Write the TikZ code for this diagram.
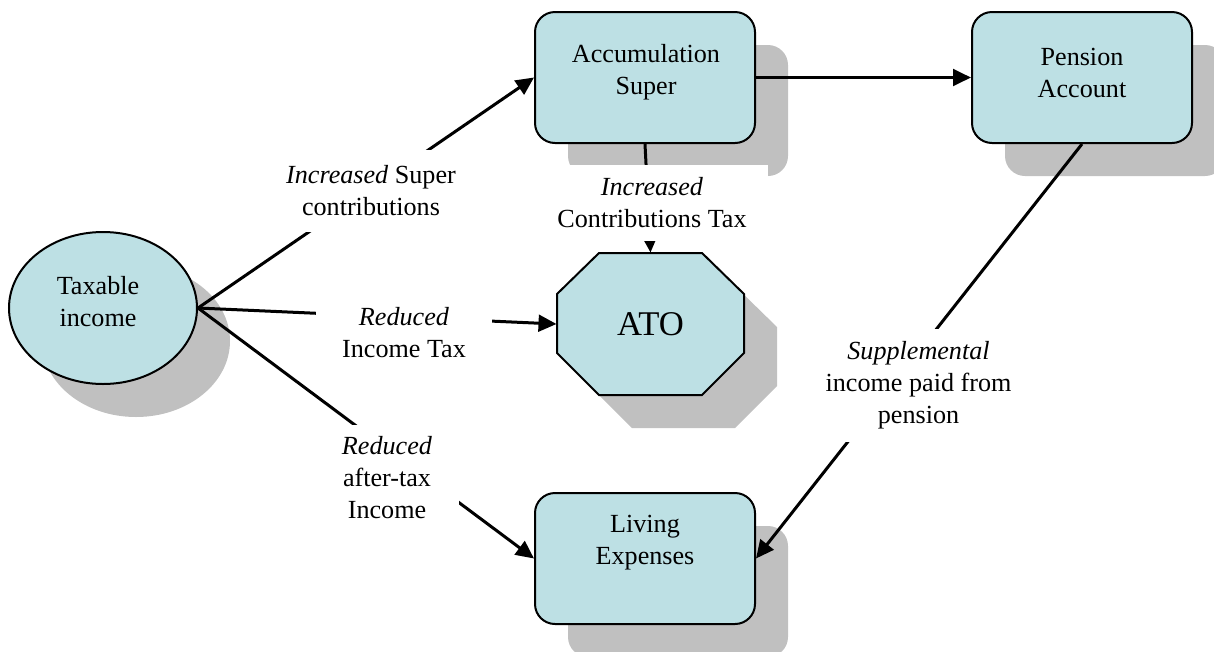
\documentclass[tikz,border=0pt]{standalone}
\usepackage{fontspec}
\setmainfont{Liberation Serif}
\usetikzlibrary{shapes.geometric,shadows,arrows.meta}
\definecolor{boxfill}{RGB}{189,224,228}
\definecolor{shadowgray}{RGB}{192,192,192}
\tikzset{every picture/.style={line width=0.75pt}}
\tikzset{
  grayshadow/.style={drop shadow={shadow xshift=24.75pt,shadow yshift=-24.75pt,fill=shadowgray,opacity=1}},
  flowbox/.style={draw,line width=1.5pt,fill=boxfill,rounded corners=15pt,minimum width=165pt,minimum height=98.25pt,inner sep=0pt,grayshadow},
  incomeoval/.style={ellipse,draw,line width=1.5pt,fill=boxfill,minimum width=141pt,minimum height=114pt,inner sep=0pt,grayshadow},
  octofill/.style={draw,line width=1.5pt,fill=boxfill,line join=miter},
  txt/.style={align=center,inner sep=0pt,font=\fontsize{19.6}{24}\selectfont},
  lbl/.style={fill=white,align=center,inner sep=0pt,font=\fontsize{19.6}{24}\selectfont},
  conn/.style={line width=2.25pt,-{Triangle[length=13.5pt,width=12.5pt]}}
}
\begin{document}
\begin{tikzpicture}[x=0.75pt,y=0.75pt,yscale=-1,xscale=1]
\useasboundingbox (0,0) rectangle (1214,651);

%Shape: Ellipse
\node [incomeoval] (taxable) at (103,308) {};
%Shape: Rounded Rectangles
\node [flowbox] (accum) at (645,77.5) {};
\node [flowbox] (pension) at (1082,77.5) {};
\node [flowbox] (living) at (645,558.5) {};
%Shape: Octagon (shadow, then body)
\fill [shadowgray] (632,286) -- (735,286) -- (777,327) -- (777,386) -- (735,428) -- (632,428) -- (590,386) -- (590,327) -- cycle ;
\draw [octofill] (599,253) -- (702,253) -- (744,294) -- (744,353) -- (702,395) -- (599,395) -- (557,353) -- (557,294) -- cycle ;
\node [txt,minimum width=140.25pt,minimum height=106.5pt,font=\fontsize{26}{31}\selectfont] (ato) at (650.5,324) {ATO};

% Text Node
\node [txt] (taxabletxt) at (98,302) {Taxable\\income};
% Text Node
\node [txt] (accumtxt) at (646,72.5) {Accumulation\\Super};
% Text Node
\node [txt] (pensiontxt) at (1082,73) {Pension\\Account};
% Text Node
\node [txt] (livingtxt) at (645,543) {Living\\Expenses};

%Straight Lines
\draw [conn] (taxable.east) -- (accum.west);
\draw [conn] (taxable.east) -- (ato.west);
\draw [conn] (taxable.east) -- (living.west);
\draw [conn] (accum.east) -- (pension.west);
\draw [conn] (accum.south) -- (ato.north);
\draw [conn] (pension.south) -- (living.east);

% Label Nodes
\node [lbl,minimum width=147.75pt,minimum height=61.5pt] (superlbl) at (371,191) {\textit{Increased} Super\\contributions};
\node [lbl,minimum width=132pt,minimum height=52.5pt] (incometaxlbl) at (404,332.5) {\textit{Reduced}\\Income Tax};
\node [lbl,minimum width=108pt,minimum height=79.5pt] (aftertaxlbl) at (387,478) {\textit{Reduced}\\after-tax\\Income};
\node [lbl,minimum width=174pt,minimum height=57pt] (contriblbl) at (652,203) {\textit{Increased}\\Contributions Tax};
\node [lbl,minimum width=162.75pt,minimum height=84.75pt] (supplbl) at (918.5,385.5) {\textit{Supplemental}\\income paid from\\pension};

\end{tikzpicture}
\end{document}
